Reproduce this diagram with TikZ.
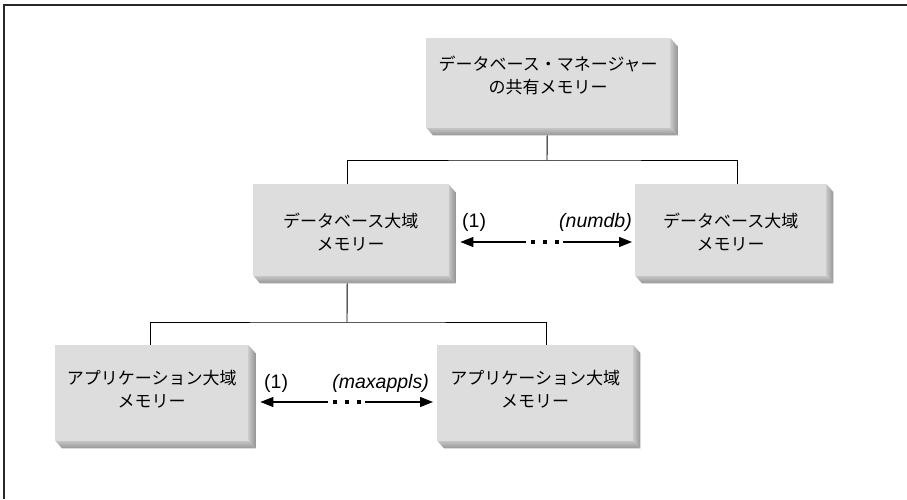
\documentclass[tikz,border=0pt]{standalone}
\usepackage{fontspec}
\setmainfont{Liberation Sans}
\newfontfamily\jp{Noto Sans CJK JP}
\usetikzlibrary{arrows.meta}
\definecolor{facegray}{RGB}{221,221,221}
\definecolor{sidelight}{RGB}{200,200,200}
\definecolor{sidedark}{RGB}{150,150,150}
\definecolor{framegray}{RGB}{40,40,40}
\tikzset{
  face/.style={fill=facegray, draw=none, anchor=north west, inner sep=0pt},
  jtext/.style={align=center, inner sep=0pt, font=\jp\fontsize{17}{23}\selectfont},
  conn/.style={draw=black, line width=0.9pt},
  arr/.style={line width=1.2pt, -{Triangle[length=13pt,width=10pt]}},
  lbl/.style={font=\fontsize{19.5}{22}\selectfont, inner sep=0pt},
  ilbl/.style={font=\itshape\fontsize{19.5}{22}\selectfont, inner sep=0pt},
  dotm/.style={fill=black}
}
% name, x0, y0, x1, y1
\newcommand{\slab}[5]{%
  \node[face, minimum width=#4pt-#2pt, minimum height=#5pt-#3pt] (#1) at (#2,#3) {};
  \shade[left color=sidelight, right color=sidedark]
    (#1.north east) -- ++(7,8) -- ([shift={(7,8)}]#1.south east) -- (#1.south east) -- cycle;
  \shade[top color=sidelight, bottom color=sidedark]
    (#1.south west) -- (#1.south east) -- ([shift={(7,8)}]#1.south east) -- ([shift={(7,8)}]#1.south west) -- cycle;
}
\begin{document}
\begin{tikzpicture}[x=1pt,y=-1pt]
\useasboundingbox (0,0) rectangle (907,499);
\fill[white] (0,0) rectangle (907,499);
\draw[framegray, line width=1.6pt] (907,5) -- (4,5) -- (4,499);

\slab{top}{426}{38}{670}{127}
\slab{midL}{253}{184}{448}{275}
\slab{midR}{635}{184}{826}{275}
\slab{botL}{55}{345}{248}{440}
\slab{botR}{437}{345}{633}{440}

\node[jtext] (topT) at ([yshift=7pt]top.center) {データベース・マネージャー\\の共有メモリー};
\node[jtext] (midLT) at ([yshift=-2pt]midL.center) {データベース大域\\メモリー};
\node[jtext] (midRT) at ([yshift=-2pt]midR.center) {データベース大域\\メモリー};
\node[jtext] (botLT) at ([yshift=3pt]botL.center) {アプリケーション大域\\メモリー};
\node[jtext] (botRT) at ([yshift=3pt]botR.center) {アプリケーション大域\\メモリー};

% tree connectors
\coordinate (t1) at (547,160);
\coordinate (t2) at (347,322);
\draw[conn] ([xshift=-1pt,yshift=-8pt]top.south) -- (t1);
\draw[conn] ([xshift=-3.5pt]midL.north) |- (t1) -| ([xshift=6.5pt]midR.north);
\draw[conn] ([xshift=-3.5pt,yshift=-8pt]midL.south) -- (t2);
\draw[conn] ([xshift=-1.5pt]botL.north) |- (t2) -| ([xshift=11pt]botR.north);

% middle row arrow
\coordinate (ma) at (526,242);
\coordinate (mb) at (563,242);
\draw[arr] (ma) -- ([xshift=12pt]midL.east |- ma);
\draw[arr] (mb) -- ([xshift=-3pt]midR.west |- mb);
\foreach \x in {533,545,557} \fill[dotm] (\x-1.6,240.4) rectangle (\x+1.6,243.6);
\node[lbl, anchor=west] (m1) at (462,222) {(1)};
\node[ilbl, anchor=east] (mn) at (632,222) {(numdb)};

% bottom row arrow
\coordinate (ba) at (328,402);
\coordinate (bb) at (365,402);
\draw[arr] (ba) -- ([xshift=12pt]botL.east |- ba);
\draw[arr] (bb) -- ([xshift=-4pt]botR.west |- bb);
\foreach \x in {335,347,359} \fill[dotm] (\x-1.6,400.4) rectangle (\x+1.6,403.6);
\node[lbl, anchor=west] (b1) at (264,383) {(1)};
\node[ilbl, anchor=east] (bn) at (429,383) {(maxappls)};
\end{tikzpicture}
\end{document}
